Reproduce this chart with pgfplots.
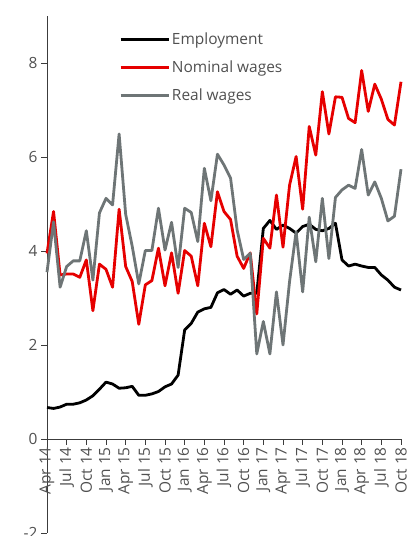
\documentclass[border=0pt]{standalone}
\usepackage{pgfplots}
\pgfplotsset{compat=1.18}
\usepackage{fontspec}
\setmainfont{Open Sans}
\definecolor{myred}{RGB}{230,0,0}
\definecolor{mygray}{RGB}{110,117,118}
\definecolor{txtgray}{RGB}{80,80,80}
\definecolor{axgray}{RGB}{60,60,60}
\begin{document}
\begin{tikzpicture}
\begin{axis}[
  scale only axis,
  width=354bp, height=517bp,
  xmin=0, xmax=54, ymin=-2, ymax=9,
  axis x line=middle, axis y line=left,
  axis line style={-, axgray, line width=0.9bp},
  hide obscured x ticks=false,
  xtick={0,3,...,54},
  xticklabels={Apr 14,Jul 14,Oct 14,Jan 15,Apr 15,Jul 15,Oct 15,Jan 16,Apr 16,Jul 16,Oct 16,Jan 17,Apr 17,Jul 17,Oct 17,Jan 18,Apr 18,Jul 18,Oct 18},
  x tick label style={rotate=90, anchor=east, font=\fontsize{15.5}{16}\selectfont, text=txtgray, inner sep=2bp},
  ytick={-2,0,2,4,6,8},
  y tick label style={font=\fontsize{15.5}{16}\selectfont, text=txtgray},
  /pgf/number format/assume math mode=true,
  tick align=outside,
  major tick length=6bp,
  tick style={axgray, line width=0.9bp},
  clip=false,
  legend style={at={(0.2,0.974)}, anchor=north west, draw=none, fill=none,
    font=\fontsize{15.5}{16}\selectfont, text=txtgray, row sep=11bp,
    inner sep=1bp},
  legend cell align=left,
  legend image code/.code={\draw[#1, line width=3bp] (0bp,0bp) -- (48bp,0bp);},
]
\addplot[black, line width=2.8bp, line join=round, no markers] coordinates {
(0,0.67)(1,0.65)(2,0.68)(3,0.74)(4,0.74)(5,0.77)(6,0.83)(7,0.92)(8,1.06)(9,1.21)
(10,1.17)(11,1.08)(12,1.09)(13,1.12)(14,0.93)(15,0.93)(16,0.96)(17,1.01)(18,1.11)(19,1.17)
(20,1.36)(21,2.32)(22,2.46)(23,2.70)(24,2.77)(25,2.80)(26,3.11)(27,3.18)(28,3.08)(29,3.17)
(30,3.04)(31,3.10)(32,3.10)(33,4.48)(34,4.65)(35,4.46)(36,4.55)(37,4.48)(38,4.38)(39,4.52)
(40,4.57)(41,4.46)(42,4.43)(43,4.48)(44,4.59)(45,3.81)(46,3.68)(47,3.72)(48,3.68)(49,3.65)
(50,3.65)(51,3.49)(52,3.38)(53,3.23)(54,3.17)};
\addlegendentry{Employment}
\addplot[myred, line width=2.8bp, line join=round, no markers] coordinates {
(0,3.95)(1,4.84)(2,3.49)(3,3.51)(4,3.51)(5,3.44)(6,3.81)(7,2.73)(8,3.72)(9,3.61)
(10,3.23)(11,4.89)(12,3.67)(13,3.35)(14,2.44)(15,3.28)(16,3.37)(17,4.06)(18,3.26)(19,3.96)
(20,3.10)(21,4.01)(22,3.89)(23,3.26)(24,4.59)(25,4.09)(26,5.26)(27,4.84)(28,4.67)(29,3.89)
(30,3.63)(31,3.96)(32,2.66)(33,4.27)(34,4.06)(35,5.19)(36,4.08)(37,5.40)(38,6.01)(39,4.89)
(40,6.65)(41,6.04)(42,7.39)(43,6.49)(44,7.28)(45,7.27)(46,6.82)(47,6.73)(48,7.84)(49,6.97)
(50,7.55)(51,7.23)(52,6.80)(53,6.68)(54,7.60)};
\addlegendentry{Nominal wages}
\addplot[mygray, line width=2.8bp, line join=round, no markers] coordinates {
(0,3.55)(1,4.62)(2,3.23)(3,3.67)(4,3.79)(5,3.79)(6,4.43)(7,3.38)(8,4.81)(9,5.12)
(10,4.98)(11,6.49)(12,4.78)(13,4.10)(14,3.30)(15,4.01)(16,4.01)(17,4.91)(18,4.02)(19,4.61)
(20,3.65)(21,4.91)(22,4.82)(23,4.20)(24,5.76)(25,5.07)(26,6.06)(27,5.83)(28,5.55)(29,4.45)
(30,3.82)(31,3.95)(32,1.81)(33,2.50)(34,1.81)(35,3.13)(36,2.00)(37,3.35)(38,4.41)(39,3.13)
(40,4.72)(41,3.77)(42,5.12)(43,3.84)(44,5.14)(45,5.30)(46,5.40)(47,5.33)(48,6.16)(49,5.19)
(50,5.47)(51,5.12)(52,4.64)(53,4.74)(54,5.74)};
\addlegendentry{Real wages}
\coordinate (bl) at (rel axis cs:0,0);
\coordinate (tr) at (rel axis cs:1,1);
\end{axis}
\pgfresetboundingbox
\path ([shift={(-47bp,-3bp)}]bl) rectangle ([shift={(9bp,16bp)}]tr);
\end{tikzpicture}
\end{document}
